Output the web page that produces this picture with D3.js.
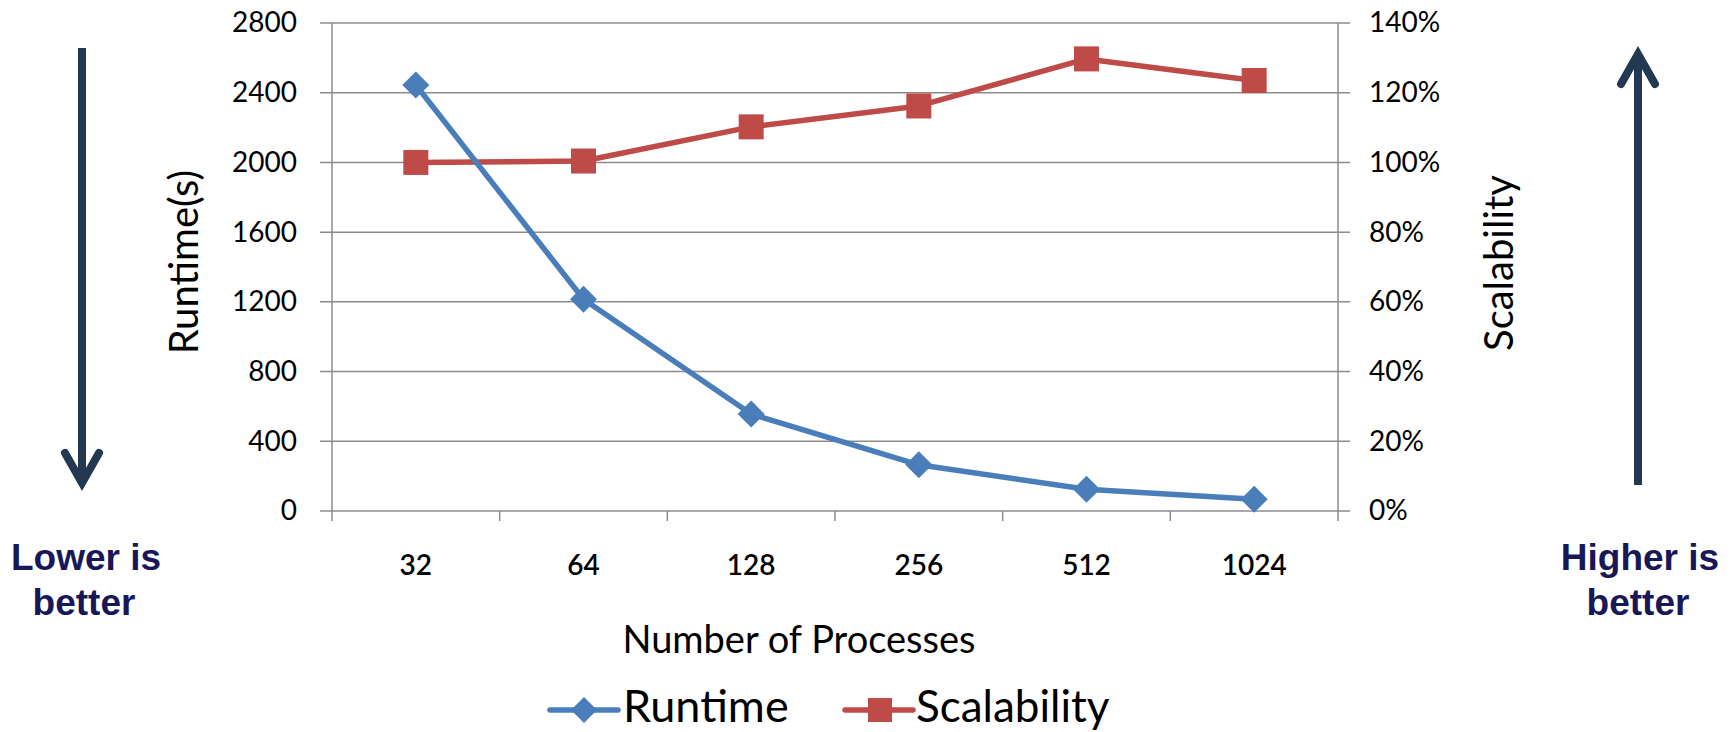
<!DOCTYPE html>
<html>
<head>
<meta charset="utf-8">
<script src="https://cdn.jsdelivr.net/npm/d3@7"></script>
<style>
  html, body { margin: 0; padding: 0; background: #fff; }
  svg { display: block; }
</style>
</head>
<body>
<svg id="chart" width="1736" height="732"></svg>
<script>
const categories = ["32", "64", "128", "256", "512", "1024"];
const runtime = [2444, 1215, 556, 265, 125, 67];
const scalability = [1.00, 1.004, 1.102, 1.162, 1.297, 1.235];
const leftTicks = [0, 400, 800, 1200, 1600, 2000, 2400, 2800];
const rightTicks = [0, 0.2, 0.4, 0.6, 0.8, 1.0, 1.2, 1.4];
const seriesNames = ["Runtime", "Scalability"];

const W = 1736, H = 732;
const plot = { left: 332, right: 1338, top: 23, bottom: 511 };
const blue = "#4a7ebb", red = "#be4b48", grid = "#8c8c8c";
const navy = "#243852", textNavy = "#181858";
const font = "Lato, 'Open Sans', sans-serif";

const svg = d3.select("#chart");

const x = d3.scaleBand().domain(categories).range([plot.left, plot.right]).padding(0);
const yL = d3.scaleLinear().domain([0, 2800]).range([plot.bottom, plot.top]);
const yR = d3.scaleLinear().domain([0, 1.4]).range([plot.bottom, plot.top]);
const cx = d => x(d) + x.bandwidth() / 2;

// gridlines
svg.append("g").selectAll("line").data(leftTicks).join("line")
  .attr("x1", plot.left - 12).attr("x2", plot.right + 12)
  .attr("y1", d => yL(d)).attr("y2", d => yL(d))
  .attr("stroke", grid).attr("stroke-width", 1.5);

// left axis
const gL = svg.append("g").attr("transform", `translate(${plot.left},0)`)
  .call(d3.axisLeft(yL).tickValues(leftTicks).tickSize(0).tickPadding(35).tickFormat(d3.format("d")));
gL.select(".domain").remove();
gL.append("line").attr("x1", 0).attr("x2", 0).attr("y1", plot.top).attr("y2", plot.bottom + 10)
  .attr("stroke", grid).attr("stroke-width", 1.5);
gL.selectAll("text").attr("font-family", font).attr("font-size", 28).attr("fill", "#000");

// right axis
const gR = svg.append("g").attr("transform", `translate(${plot.right},0)`)
  .call(d3.axisRight(yR).tickValues(rightTicks).tickSize(0).tickPadding(31).tickFormat(d3.format(".0%")));
gR.select(".domain").remove();
gR.append("line").attr("x1", 0).attr("x2", 0).attr("y1", plot.top).attr("y2", plot.bottom + 10)
  .attr("stroke", grid).attr("stroke-width", 1.5);
gR.selectAll("text").attr("font-family", font).attr("font-size", 28).attr("fill", "#000");

// bottom axis
const gB = svg.append("g").attr("transform", `translate(0,${plot.bottom})`)
  .call(d3.axisBottom(x).tickSize(0).tickPadding(44));
gB.select(".domain").remove();
gB.selectAll("text").attr("font-family", font).attr("font-size", 28).attr("font-weight", 600).attr("fill", "#000");
gB.selectAll("line.sep").data(categories.slice(1)).join("line").attr("class", "sep")
  .attr("x1", d => x(d)).attr("x2", d => x(d)).attr("y1", 0).attr("y2", 10)
  .attr("stroke", grid).attr("stroke-width", 1.5);

// axis titles
svg.append("text").attr("transform", "translate(198,262) rotate(-90)")
  .attr("text-anchor", "middle").attr("font-family", font).attr("font-size", 40).attr("fill", "#000")
  .text("Runtime(s)");
svg.append("text").attr("transform", "translate(1513,263) rotate(-90)")
  .attr("text-anchor", "middle").attr("font-family", font).attr("font-size", 40).attr("fill", "#000")
  .text("Scalability");
svg.append("text").attr("x", 799).attr("y", 653)
  .attr("text-anchor", "middle").attr("font-family", font).attr("font-size", 38).attr("fill", "#000")
  .text("Number of Processes");

// lines
const lineR = d3.line().x((d, i) => cx(categories[i])).y(d => yL(d));
const lineS = d3.line().x((d, i) => cx(categories[i])).y(d => yR(d));
svg.append("path").datum(scalability).attr("d", lineS).attr("fill", "none")
  .attr("stroke", red).attr("stroke-width", 5.5).attr("stroke-linejoin", "round");
svg.append("path").datum(runtime).attr("d", lineR).attr("fill", "none")
  .attr("stroke", blue).attr("stroke-width", 5.5).attr("stroke-linejoin", "round");

const sq = 25, dm = 13.5;
svg.append("g").selectAll("rect").data(scalability).join("rect")
  .attr("x", (d, i) => cx(categories[i]) - sq / 2).attr("y", d => yR(d) - sq / 2)
  .attr("width", sq).attr("height", sq).attr("fill", red);
svg.append("g").selectAll("path").data(runtime).join("path")
  .attr("d", (d, i) => { const px = cx(categories[i]), py = yL(d);
    return `M${px},${py - dm}L${px + dm},${py}L${px},${py + dm}L${px - dm},${py}Z`; })
  .attr("fill", blue);

// legend
const leg = svg.append("g");
leg.append("line").attr("x1", 550).attr("x2", 618).attr("y1", 710).attr("y2", 710)
  .attr("stroke", blue).attr("stroke-width", 5.5).attr("stroke-linecap", "round");
leg.append("path").attr("d", `M584,${710 - 13}L${584 + 13},710L584,${710 + 13}L${584 - 13},710Z`).attr("fill", blue);
leg.append("text").attr("x", 623).attr("y", 722).attr("font-family", font).attr("font-size", 45)
  .attr("fill", "#000").text(seriesNames[0]);
leg.append("line").attr("x1", 845).attr("x2", 913).attr("y1", 710).attr("y2", 710)
  .attr("stroke", red).attr("stroke-width", 5.5).attr("stroke-linecap", "round");
leg.append("rect").attr("x", 868).attr("y", 698).attr("width", 24).attr("height", 24).attr("fill", red);
leg.append("text").attr("x", 916).attr("y", 722).attr("font-family", font).attr("font-size", 44)
  .attr("fill", "#000").text(seriesNames[1]);

// arrows
function arrow(xp, y0, y1) {
  const g = svg.append("g").attr("stroke", navy).attr("stroke-width", 8).attr("fill", "none");
  g.append("line").attr("x1", xp).attr("x2", xp).attr("y1", y0).attr("y2", y1 + (y1 > y0 ? -3 : 3))
    .attr("stroke-linecap", "butt");
  const dir = y1 > y0 ? -1 : 1;
  g.append("path").attr("d", `M${xp - 17},${y1 + dir * 32}L${xp},${y1 + dir * 2}L${xp + 17},${y1 + dir * 32}`)
    .attr("stroke-linecap", "round").attr("stroke-linejoin", "miter");
}
arrow(82, 48, 485);
arrow(1638, 485, 52);

// side notes
const noteFont = "'Liberation Sans', Arial, sans-serif";
[[86, "Lower is", "better"], [1640, "Higher is", "better"]].forEach(([xx, a, b]) => {
  const t = svg.append("text").attr("text-anchor", "middle").attr("font-family", noteFont)
    .attr("font-weight", "bold").attr("font-size", 37).attr("fill", textNavy);
  t.append("tspan").attr("x", xx).attr("y", 570).text(a);
  t.append("tspan").attr("x", xx - 2).attr("y", 615).text(b);
});
</script>
</body>
</html>
